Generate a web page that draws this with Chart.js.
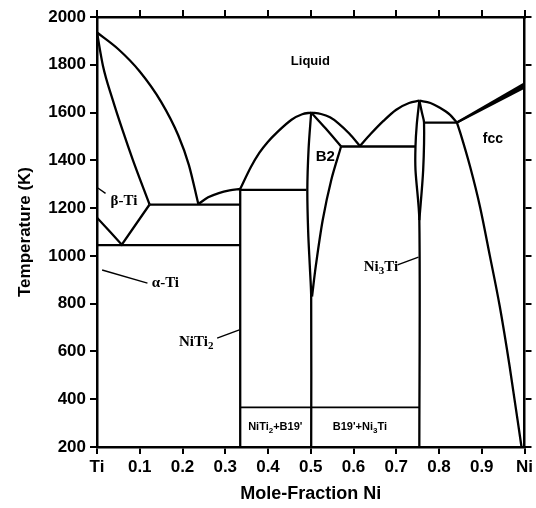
<!DOCTYPE html>
<html>
<head>
<meta charset="utf-8">
<script src="https://cdn.jsdelivr.net/npm/chart.js@4.4.0/dist/chart.umd.min.js"></script>
<style>
  body { margin: 0; background: #fff; }
  #wrap { width: 536px; height: 508px; }
</style>
</head>
<body>
<div id="wrap"><canvas id="myChart" width="536" height="508"></canvas></div>
<script>
// tick values / labels
var xTickValues = [0, 0.1, 0.2, 0.3, 0.4, 0.5, 0.6, 0.7, 0.8, 0.9, 1];
var xTickLabels = ['Ti', '0.1', '0.2', '0.3', '0.4', '0.5', '0.6', '0.7', '0.8', '0.9', 'Ni'];
var yTickValues = [200, 400, 600, 800, 1000, 1200, 1400, 1600, 1800, 2000];

// phase boundaries, [mole fraction Ni, temperature K]
var tiLiquidus    = [[0, 1935], [0.05, 1865], [0.1, 1772], [0.15, 1645], [0.19, 1505], [0.215, 1380], [0.237, 1217]];
var betaSolidus   = [[0, 1935], [0.014, 1795], [0.037, 1652], [0.06, 1525], [0.084, 1401], [0.123, 1215]];
var betaTransus   = [[0, 1160], [0.03, 1102], [0.058, 1047], [0.123, 1215]];
var eutectic1215  = [[0.123, 1215], [0.335, 1215]];
var eutectoid1045 = [[0, 1045], [0.335, 1045]];
var niti2Line     = [[0.335, 200], [0.335, 1280]];
var niti2Liquidus = [[0.237, 1217], [0.26, 1245], [0.285, 1263], [0.31, 1274], [0.335, 1280]];
var peritectic    = [[0.335, 1276], [0.49, 1276]];
var b2LiqLeft     = [[0.335, 1280], [0.36, 1372], [0.38, 1432], [0.40, 1478], [0.42, 1515], [0.455, 1570], [0.48, 1593], [0.501, 1600]];
var b2LiqRight    = [[0.501, 1600], [0.524, 1594], [0.545, 1580], [0.564, 1556], [0.59, 1512], [0.615, 1460]];
var b2SolRight    = [[0.501, 1600], [0.534, 1535], [0.571, 1458]];
var b2RightLow    = [[0.571, 1458], [0.548, 1318], [0.528, 1150], [0.512, 960], [0.503, 830]];
var b2Left        = [[0.501, 1600], [0.495, 1450], [0.492, 1276], [0.494, 1100], [0.498, 950], [0.501, 830], [0.501, 200]];
var eutectic1458  = [[0.571, 1458], [0.745, 1458]];
var ni3tiLiqLeft  = [[0.615, 1460], [0.64, 1510], [0.67, 1565], [0.70, 1612], [0.73, 1640], [0.754, 1650]];
var ni3tiLiqRight = [[0.754, 1650], [0.78, 1640], [0.80, 1622], [0.826, 1590], [0.842, 1558]];
var ni3tiLeft     = [[0.754, 1650], [0.748, 1550], [0.745, 1458], [0.745, 1360], [0.754, 1150], [0.754, 200]];
var ni3tiRight    = [[0.754, 1650], [0.760, 1600], [0.765, 1558], [0.763, 1360], [0.754, 1150]];
var eutectic1558  = [[0.765, 1558], [0.842, 1558]];
var fccLiquidus   = [[0.842, 1558], [1, 1722]];
var fccSolidus    = [[0.842, 1558], [1, 1705]];
var fccSolvus     = [[0.842, 1558], [0.85, 1514], [0.873, 1372], [0.896, 1205], [0.919, 1000], [0.942, 790], [0.965, 540], [0.993, 200]];
var b19Line       = [[0.335, 366], [0.754, 366]];

// label pointers
var betaPointer  = [[0.002, 1284], [0.02, 1262]];
var alphaPointer = [[0.012, 941], [0.118, 886]];
var niti2Pointer = [[0.281, 656], [0.333, 690]];
var ni3tiPointer = [[0.703, 962], [0.752, 995]];

var sans = '"Liberation Sans", Arial, sans-serif';
var serif = '"Liberation Serif", "Times New Roman", serif';

// text in the diagram: runs of [text, subscript?]
var plotLabels = [
  { runs: [['Liquid', 0]], x: 0.499, t: 1812, font: 'bold 13px ' + sans, sub: 'bold 9px ' + sans },
  { runs: [['B2', 0]], x: 0.534, t: 1414, font: 'bold 15px ' + sans, sub: 'bold 10px ' + sans },
  { runs: [['fcc', 0]], x: 0.926, t: 1490, font: 'bold 14px ' + sans, sub: 'bold 10px ' + sans },
  { runs: [['\u03b2-Ti', 0]], x: 0.063, t: 1228, font: 'bold 15px ' + serif, sub: 'bold 10px ' + serif },
  { runs: [['\u03b1-Ti', 0]], x: 0.16, t: 886, font: 'bold 15px ' + serif, sub: 'bold 10px ' + serif },
  { runs: [['NiTi', 0], ['2', 1]], x: 0.232, t: 638, font: 'bold 15px ' + serif, sub: 'bold 11px ' + serif },
  { runs: [['Ni', 0], ['3', 1], ['Ti', 0]], x: 0.664, t: 952, font: 'bold 15px ' + serif, sub: 'bold 11px ' + serif },
  { runs: [['NiTi', 0], ['2', 1], ['+B19\'', 0]], x: 0.417, t: 284, font: 'bold 11px ' + sans, sub: 'bold 8px ' + sans },
  { runs: [['B19\'+Ni', 0], ['3', 1], ['Ti', 0]], x: 0.615, t: 284, font: 'bold 11px ' + sans, sub: 'bold 8px ' + sans }
];

function pts(arr) {
  return arr.map(function (p) { return { x: p[0], y: p[1] }; });
}

// curve: 0 straight, 1 monotone in x, 2 bezier tension
function line(arr, curve, width) {
  var ds = {
    data: pts(arr),
    showLine: true,
    borderColor: '#000',
    borderWidth: width || 2.3,
    pointRadius: 0,
    tension: curve === 2 ? 0.3 : 0,
    fill: false
  };
  if (curve === 1) ds.cubicInterpolationMode = 'monotone';
  return ds;
}

var datasets = [
  line(tiLiquidus, 1), line(betaSolidus, 1), line(betaTransus, 0),
  line(eutectic1215), line(eutectoid1045), line(niti2Line), line(niti2Liquidus, 1),
  line(peritectic), line(b2LiqLeft, 1), line(b2LiqRight, 1), line(b2SolRight, 1),
  line(b2RightLow, 2), line(b2Left, 2), line(eutectic1458),
  line(ni3tiLiqLeft, 1), line(ni3tiLiqRight, 1), line(ni3tiLeft, 2), line(ni3tiRight, 2),
  line(eutectic1558), line(fccLiquidus), line(fccSolidus), line(fccSolvus, 1), line(b19Line, 0, 1.6),
  line(betaPointer, 0, 1.4), line(alphaPointer, 0, 1.4), line(niti2Pointer, 0, 1.4), line(ni3tiPointer, 0, 1.4)
];
// wedge between fcc liquidus and solidus
datasets[20].fill = '-1';
datasets[20].backgroundColor = '#000';

var textPlugin = {
  id: 'phaseText',
  afterDatasetsDraw: function (chart) {
    var ctx = chart.ctx, sx = chart.scales.x, sy = chart.scales.y;
    ctx.save();
    ctx.fillStyle = '#000';
    ctx.textBaseline = 'middle';
    ctx.textAlign = 'left';
    plotLabels.forEach(function (l) {
      var w = 0;
      l.runs.forEach(function (r) { ctx.font = r[1] ? l.sub : l.font; w += ctx.measureText(r[0]).width; });
      var px = sx.getPixelForValue(l.x) - w / 2, py = sy.getPixelForValue(l.t);
      l.runs.forEach(function (r) {
        ctx.font = r[1] ? l.sub : l.font;
        ctx.fillText(r[0], px, r[1] ? py + 4 : py);
        px += ctx.measureText(r[0]).width;
      });
    });
    ctx.restore();
  }
};

function setTicks(values) {
  return function (scale) { scale.ticks = values.map(function (v) { return { value: v }; }); };
}

var gridOpts = { drawOnChartArea: false, drawTicks: true, tickLength: 7, color: '#000', lineWidth: 2 };
var borderOpts = { display: true, width: 2.5, color: '#000' };

new Chart(document.getElementById('myChart'), {
  type: 'scatter',
  data: { datasets: datasets },
  options: {
    responsive: false,
    animation: false,
    layout: { padding: 0 },
    plugins: { legend: { display: false }, tooltip: { enabled: false } },
    scales: {
      x: {
        type: 'linear', position: 'bottom', min: 0, max: 1,
        afterBuildTicks: setTicks(xTickValues),
        afterFit: function (s) { s.height = 61; },
        grid: gridOpts, border: borderOpts,
        ticks: {
          color: '#000', padding: 3, maxRotation: 0, autoSkip: false,
          font: { family: sans, size: 17, weight: 'bold' },
          callback: function (v, i) { return xTickLabels[i]; }
        },
        title: {
          display: true, text: 'Mole-Fraction Ni', color: '#000',
          font: { family: sans, size: 18, weight: 'bold' }, padding: { top: 0, bottom: 3 }
        }
      },
      x2: {
        type: 'linear', position: 'top', min: 0, max: 1,
        afterBuildTicks: setTicks(xTickValues),
        afterFit: function (s) { s.height = 17; },
        grid: gridOpts, border: borderOpts,
        ticks: { display: false }
      },
      y: {
        type: 'linear', position: 'left', min: 200, max: 2000,
        afterBuildTicks: setTicks(yTickValues),
        afterFit: function (s) { s.width = 97; },
        grid: gridOpts, border: borderOpts,
        ticks: {
          color: '#000', padding: 4, autoSkip: false,
          font: { family: sans, size: 17, weight: 'bold' },
          callback: function (v) { return String(v); }
        },
        title: {
          display: true, text: 'Temperature (K)', color: '#000',
          font: { family: sans, size: 17, weight: 'bold' }, padding: { top: 15, bottom: 0 }
        }
      },
      y2: {
        type: 'linear', position: 'right', min: 200, max: 2000,
        afterBuildTicks: setTicks(yTickValues),
        afterFit: function (s) { s.width = 8; },
        grid: gridOpts, border: borderOpts,
        ticks: { display: false }
      }
    }
  },
  plugins: [textPlugin]
});
</script>
</body>
</html>
